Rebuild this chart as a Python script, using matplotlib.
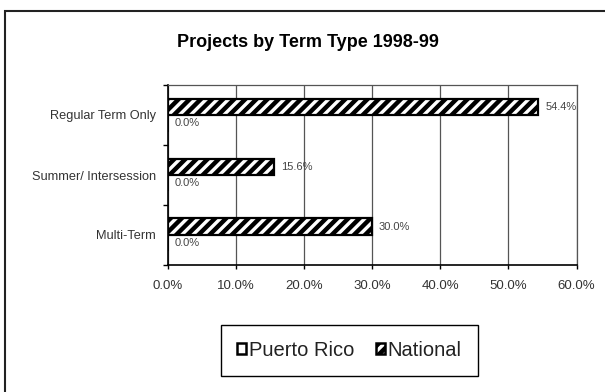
import matplotlib
matplotlib.use("Agg")
import matplotlib.pyplot as plt
from matplotlib import font_manager
from matplotlib.patches import Patch, Rectangle
import numpy as np

# values
categories = ["Multi-Term", "Summer/ Intersession", "Regular Term Only"]
puerto_rico = [0.0, 0.0, 0.0]
national = [30.0, 15.6, 54.4]
x_ticks = [0, 10, 20, 30, 40, 50, 60]
series_names = ["Puerto Rico", "National"]

# narrow font like the original Arial Narrow, if it is there
names = {f.name for f in font_manager.fontManager.ttflist}
narrow = "Liberation Sans Narrow" if "Liberation Sans Narrow" in names else "Liberation Sans"
plt.rcParams["font.family"] = [narrow, "DejaVu Sans"]
plt.rcParams["hatch.linewidth"] = 3.2

fig = plt.figure(figsize=(6.05, 3.92), dpi=100)

# outer chart border (only left and top edges fall inside the picture)
top = 1 - 10.5 / 392
fig.patches.append(Rectangle((4.5 / 605, -0.1), 1.2, top + 0.1, transform=fig.transFigure,
                             fill=False, edgecolor="#222222", lw=1.5))

ax = fig.add_axes([167.7 / 605, 1 - 265 / 392, 408.8 / 605, 180 / 392])

y = np.arange(len(categories))
h = 0.275
ax.barh(y + h / 2, national, height=h, color="white", edgecolor="black",
        hatch="///", lw=1.6, zorder=3)
ax.barh(y - h / 2, puerto_rico, height=h, color="white", edgecolor="black",
        lw=1.2, zorder=3)

for yi, v in zip(y, national):
    ax.annotate(f"{v:.1f}%", (v, yi + h / 2), xytext=(5, 0), textcoords="offset points",
                ha="left", va="center", fontsize=8, color="#444444")
for yi, v in zip(y, puerto_rico):
    ax.annotate(f"{v:.1f}%", (v, yi - h / 2), xytext=(5, 0), textcoords="offset points",
                ha="left", va="center", fontsize=8, color="#444444")

ax.set_xlim(0, 60)
ax.set_ylim(-0.5, len(categories) - 0.5)
ax.set_xticks(x_ticks)
ax.set_xticklabels([f"{t:.1f}%" for t in x_ticks], fontsize=9.5, color="#333333")
ax.tick_params(axis="x", direction="out", length=3, width=1, pad=7.5)

# category ticks sit between groups, labels sit at group centres
ax.set_yticks(np.arange(-0.5, len(categories), 1.0))
ax.set_yticklabels([])
ax.set_yticks(y, minor=True)
ax.set_yticklabels(categories, minor=True, fontsize=9.2, color="#333333")
ax.tick_params(axis="y", which="major", direction="out", length=3.5, width=1)
ax.tick_params(axis="y", which="minor", length=0, pad=8.5)

ax.grid(axis="x", color="#555555", lw=0.9)
ax.set_axisbelow(True)
for s in ["top", "right"]:
    ax.spines[s].set_color("#555555")
    ax.spines[s].set_linewidth(0.9)
for s in ["left", "bottom"]:
    ax.spines[s].set_color("black")
    ax.spines[s].set_linewidth(1.2)

fig.text(308 / 605, 1 - 46.7 / 392, "Projects by Term Type 1998-99", ha="center",
         va="baseline", fontsize=13, fontweight="bold")

handles = [Patch(facecolor="white", edgecolor="black", lw=1.8),
           Patch(facecolor="white", edgecolor="black", hatch="///", lw=1.8)]
leg = fig.legend(handles, series_names, loc="center", ncol=2,
                 bbox_to_anchor=((223 + 476) / 2 / 605, 1 - (324 + 377) / 2 / 392),
                 fontsize=14.5, handlelength=0.45, handleheight=0.45, handletextpad=0.15,
                 columnspacing=1.05, borderpad=0.8, fancybox=False, framealpha=1)
leg.get_frame().set_edgecolor("black")
leg.get_frame().set_linewidth(1.0)
for t in leg.get_texts():
    t.set_color("#222222")

fig.savefig("out.png", dpi=100)
